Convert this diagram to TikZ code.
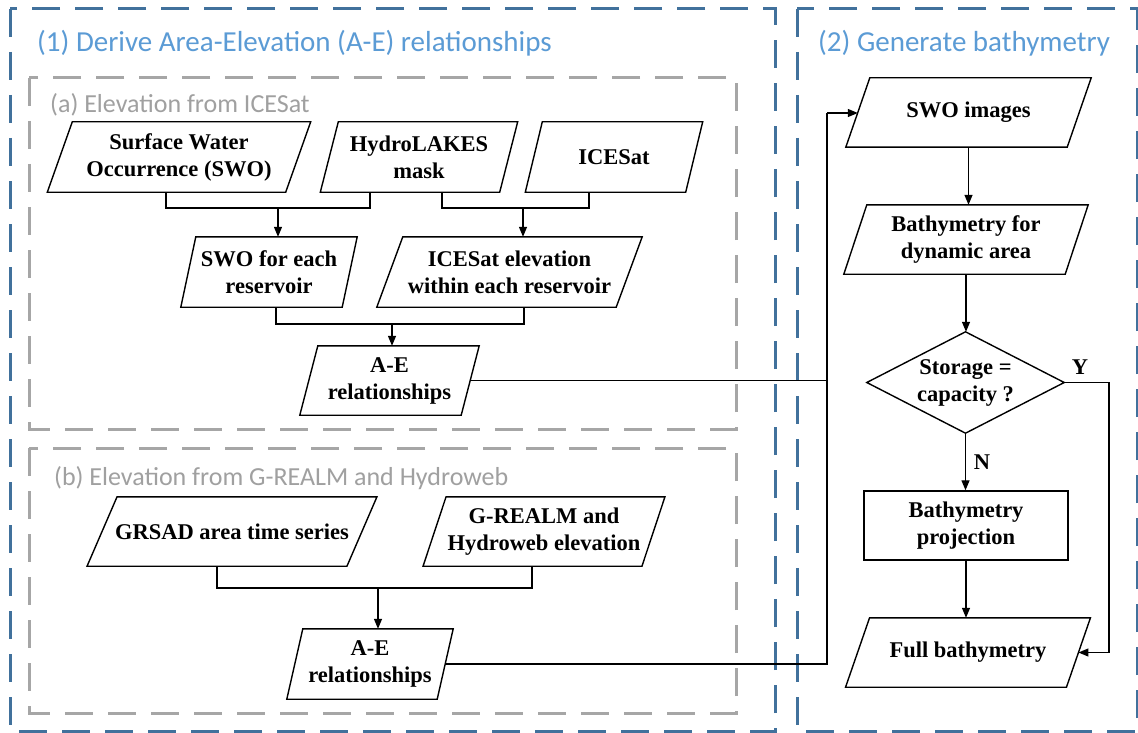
\documentclass[tikz,border=0pt]{standalone}
\usepackage{fontspec}
\setmainfont{Liberation Serif}
\newfontfamily\titlefont{Carlito}
\usetikzlibrary{arrows.meta,shapes.geometric}
\definecolor{titleblue}{HTML}{5B9BD5}
\definecolor{frameblue}{HTML}{41719C}
\definecolor{framegrey}{HTML}{A6A6A6}
\definecolor{subgrey}{HTML}{A0A0A0}
\begin{document}
\begin{tikzpicture}[x=1pt,y=-1pt,
  box/.style={inner sep=0pt, align=center, font=\fontsize{22.5}{27}\selectfont\bfseries},
  shp/.style={draw=black, line width=1.4pt, line join=miter},
  ln/.style={draw=black, line width=1.3pt},
  arr/.style={draw=black, line width=1.3pt, -{Triangle[length=10pt,width=8pt]}},
  bluefr/.style={draw=frameblue, line width=3pt, dash pattern=on 28pt off 15pt},
  greyfr/.style={draw=framegrey, line width=3pt, dash pattern=on 28pt off 15pt},
  maintitle/.style={anchor=base west, inner sep=0pt, text=titleblue, font=\titlefont\fontsize{29}{35}\selectfont},
  subtitle/.style={anchor=base west, inner sep=0pt, text=subgrey, font=\titlefont\fontsize{26}{31}\selectfont},
  lbl/.style={inner sep=0pt, font=\fontsize{22.5}{27}\selectfont\bfseries}
]
\fill[white] (0,0) rectangle (1138,733);
\useasboundingbox (0,0) rectangle (1138,733);

% frames
\draw[bluefr] (10,9) rectangle (775,731);
\draw[bluefr] (797,9) rectangle (1137,731);
\draw[greyfr] (29,78) rectangle (736,429);
\draw[greyfr] (29,448) rectangle (736,713);

% titles
\node[maintitle] (t1) at (37,52) {(1) Derive Area-Elevation (A-E) relationships};
\node[maintitle] (t2) at (818,52) {(2) Generate bathymetry};
\node[subtitle] (ta) at (50,113) {(a) Elevation from ICESat};
\node[subtitle] (tb) at (54,485) {(b) Elevation from G-REALM and Hydroweb};

% nodes (a)
\node[box, minimum width=238, minimum height=70] (swo) at (179,157) {Surface Water\\Occurrence (SWO)};
\node[box, minimum width=179, minimum height=70] (hl) at (419,157) {HydroLAKES\\mask};
\node[box, minimum width=160, minimum height=70] (ice) at (614,157) {ICESat};
\node[box, minimum width=161, minimum height=70] (sweach) at (269,272) {SWO for each\\reservoir};
\node[box, minimum width=239, minimum height=70] (iceel) at (509.5,272) {ICESat elevation\\within each reservoir};
\node[box, minimum width=161, minimum height=69] (aea) at (389.5,380.5) {A-E\\relationships};

% nodes (b)
\node[box, minimum width=259.5, minimum height=69] (grsad) at (232,531.5) {GRSAD area time series};
\node[box, minimum width=218.5, minimum height=69] (greal) at (544,531.5) {G-REALM and\\Hydroweb elevation};
\node[box, minimum width=150, minimum height=70] (aeb) at (370,664) {A-E\\relationships};

% nodes (2)
\node[box, minimum width=221, minimum height=69] (swoimg) at (968.5,112.5) {SWO images};
\node[box, minimum width=221, minimum height=69] (bathdyn) at (966,239.5) {Bathymetry for\\dynamic area};
\node[box, minimum width=197, minimum height=101] (dia) at (965.5,382.5) {Storage =\\capacity ?};
\node[box, shp, minimum width=204, minimum height=69] (proj) at (966,525.5) {Bathymetry\\projection};
\node[box, minimum width=220.5, minimum height=69] (fullb) at (968,652.5) {Full bathymetry};

% diamond outline
\draw[shp] (dia.north) -- (dia.east) -- (dia.south) -- (dia.west) -- cycle;

% parallelogram outlines
\foreach \n/\s in {swo/12.5, hl/9, ice/8.5, sweach/7.5, iceel/13, aea/9, grsad/15, greal/11.5, aeb/8, swoimg/12, bathdyn/11.5, fullb/12}
  \draw[shp] ([xshift=\s]\n.north west) -- ([xshift=\s]\n.north east) -- ([xshift=-\s]\n.south east) -- ([xshift=-\s]\n.south west) -- cycle;

% connectors (a)
\coordinate (swoB) at ([xshift=-13]swo.south);
\coordinate (hlL) at ([xshift=-49]hl.south);
\coordinate (hlR) at ([xshift=23]hl.south);
\coordinate (iceB) at ([xshift=-25]ice.south);
\coordinate (j1) at (278,208);
\coordinate (j2) at (523,208);
\draw[ln] (swoB) |- (j1) -| (hlL);
\draw[arr] (j1) -- (j1 |- sweach.north);
\draw[ln] (hlR) |- (j2) -| (iceB);
\draw[arr] (j2) -- (j2 |- iceel.north);

\coordinate (sweB) at ([xshift=7]sweach.south);
\coordinate (ielB) at ([xshift=14.5]iceel.south);
\coordinate (j3) at (392,324);
\draw[ln] (sweB) |- (j3) -| (ielB);
\draw[arr] (j3) -- (j3 |- aea.north);

% connectors (b)
\coordinate (grB) at ([xshift=-15]grsad.south);
\coordinate (geB) at ([xshift=-12]greal.south);
\coordinate (j4) at (378,588);
\draw[ln] (grB) |- (j4) -| (geB);
\draw[arr] (j4) -- (j4 |- aeb.north);

% to part (2)
\coordinate (bus) at (827,113);
\draw[ln] (aea.east) -| (bus);
\draw[ln] (aeb.east) -| (bus);
\draw[arr] (bus) -- (bus -| swoimg.west);

% part (2) flow
\draw[arr] (swoimg.south) -- (swoimg.south |- bathdyn.north);
\draw[arr] (bathdyn.south) -- (bathdyn.south |- dia.north);
\draw[arr] (dia.south) -- (dia.south |- proj.north);
\draw[arr] (proj.south) -- (proj.south |- fullb.north);
\coordinate (yc) at (1109,382.5);
\draw[arr] (dia.east) -- (yc) |- (fullb.east);
\node[lbl] (ylab) at (1080,367) {Y};
\node[lbl] (nlab) at (982,462) {N};
\end{tikzpicture}
\end{document}
